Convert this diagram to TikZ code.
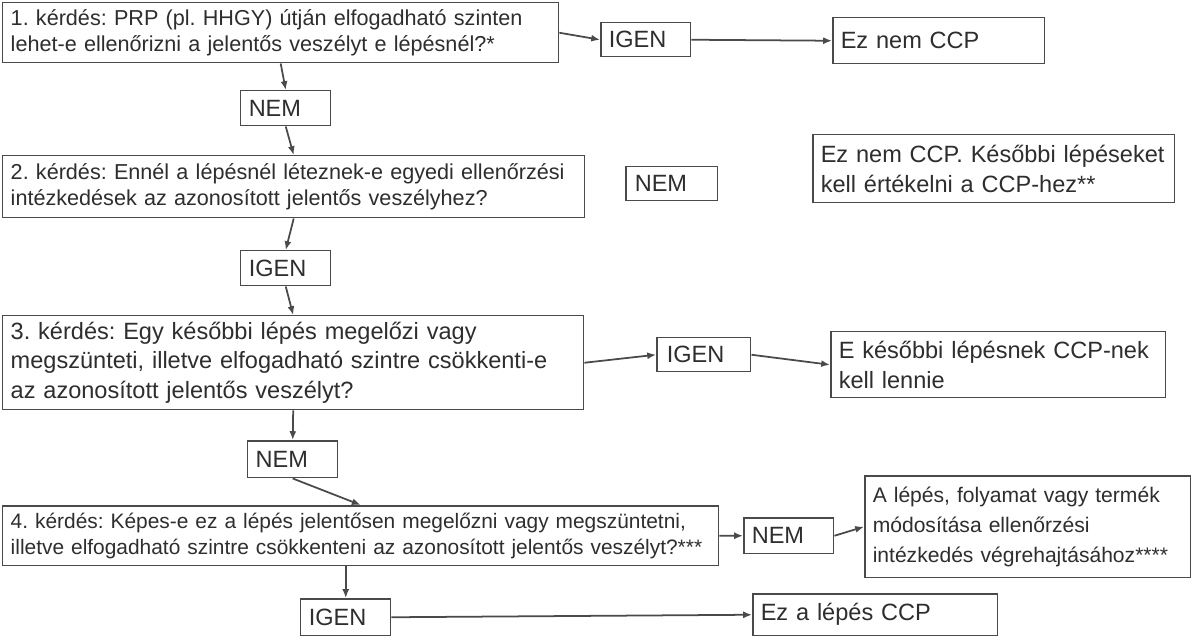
\documentclass[tikz,border=0pt]{standalone}
\usepackage{fontspec}
\setmainfont{Liberation Sans}
\frenchspacing
\usetikzlibrary{arrows.meta,positioning,calc}
\definecolor{linegray}{HTML}{4A4A4A}
\definecolor{textgray}{HTML}{2E2E2E}
\tikzset{
  box/.style={
    rectangle, draw=linegray, line width=0.85pt, fill=white,
    anchor=north west, inner xsep=0.16cm, inner ysep=0pt,
    text=textgray, align=left, font=\fontsize{12.3}{15}\selectfont
  },
  bigbox/.style={box, font=\fontsize{13.4}{17}\selectfont},
  answer/.style={bigbox, text width=1.48cm},
  arr/.style={-{Latex[length=5pt,width=4pt]}, line width=1pt, draw=linegray}
}

\begin{document}
\begin{tikzpicture}[x=0.02cm, y=-0.02cm]
  \useasboundingbox (0,0) rectangle (1192,639);

  % Questions (left column)
  \node[box, minimum width=11.12cm, minimum height=1.2cm, text width=10.8cm] (q1) at (2,2)
    {1. kérdés: PRP (pl. HHGY) útján elfogadható szinten\\lehet-e ellenőrizni a jelentős veszélyt e lépésnél?*};
  \node[box, minimum width=11.64cm, minimum height=1.24cm, text width=11.32cm] (q2) at (2,155)
    {2. kérdés: Ennél a lépésnél léteznek-e egyedi ellenőrzési\\intézkedések az azonosított jelentős veszélyhez?};
  \node[bigbox, minimum width=11.62cm, minimum height=1.88cm, text width=11.3cm] (q3) at (2,315)
    {3. kérdés: Egy későbbi lépés megelőzi vagy\\megszünteti, illetve elfogadható szintre csökkenti-e\\az azonosított jelentős veszélyt?};
  \node[box, minimum width=14.32cm, minimum height=1.2cm, text width=14cm,
        font=\fontsize{11.9}{14.8}\selectfont] (q4) at (2,505)
    {4. kérdés: Képes-e ez a lépés jelentősen megelőzni vagy megszüntetni,\\illetve elfogadható szintre csökkenteni az azonosított jelentős veszélyt?***};

  % Answers
  \node[answer, minimum width=1.8cm, minimum height=0.68cm]  (igen1) at (600,22) {IGEN};
  \node[answer, minimum width=1.8cm, minimum height=0.7cm]   (nem1)  at (240,90) {NEM};
  \node[answer, minimum width=1.84cm, minimum height=0.68cm] (nem2)  at (625,166) {NEM};
  \node[answer, minimum width=1.8cm, minimum height=0.7cm]   (igen2) at (240,250) {IGEN};
  \node[answer, minimum width=1.88cm, minimum height=0.68cm] (igen3) at (656,337) {IGEN};
  \node[answer, minimum width=1.8cm, minimum height=0.74cm]  (nem3)  at (247,440) {NEM};
  \node[answer, minimum width=1.8cm, minimum height=0.72cm]  (nem4)  at (743,517) {NEM};
  \node[answer, minimum width=1.8cm, minimum height=0.74cm]  (igen4) at (300,598) {IGEN};

  % Results (right column)
  \node[bigbox, minimum width=4.24cm, minimum height=0.92cm, text width=3.92cm] (nemccp) at (832,17)
    {Ez nem CCP};
  \node[bigbox, minimum width=7.24cm, minimum height=1.36cm, text width=6.92cm] (kesobbi) at (812,134)
    {Ez nem CCP. Későbbi lépéseket\\kell értékelni a CCP-hez**};
  \node[bigbox, minimum width=6.7cm, minimum height=1.32cm, text width=6.38cm] (leszccp) at (830,331)
    {E későbbi lépésnek CCP-nek\\kell lennie};
  \node[box, minimum width=6.52cm, minimum height=2.04cm, text width=6.2cm,
        font=\fontsize{12}{17}\selectfont] (modosit) at (864,475)
    {A lépés, folyamat vagy termék\\módosítása ellenőrzési\\intézkedés végrehajtásához****};
  \node[bigbox, minimum width=4.9cm, minimum height=0.84cm, text width=4.58cm] (ccp) at (752,593)
    {Ez a lépés CCP};

  % Arrows
  \draw[arr] (q1.east) -- (igen1.west);
  \draw[arr] (igen1.east) -- (nemccp.west);
  \draw[arr] (q1.south) -- (nem1.north);
  \draw[arr] (nem1.south) -- (q2.north);
  \draw[arr] (q2.south) -- (igen2.north);
  \draw[arr] (igen2.south) -- (q3.north);
  \draw[arr] (q3.east) -- (igen3.west);
  \draw[arr] (igen3.east) -- (leszccp.west);
  \draw[arr] (q3.south) -- (nem3.north);
  \draw[arr] (nem3.south) -- (q4.north);
  \draw[arr] (q4.east) -- (nem4.west);
  \draw[arr] (nem4.east) -- (modosit.west);
  \draw[arr] (igen4.north |- q4.south) -- (igen4.north);
  \draw[arr] (igen4.east) -- (ccp.west);
\end{tikzpicture}
\end{document}
